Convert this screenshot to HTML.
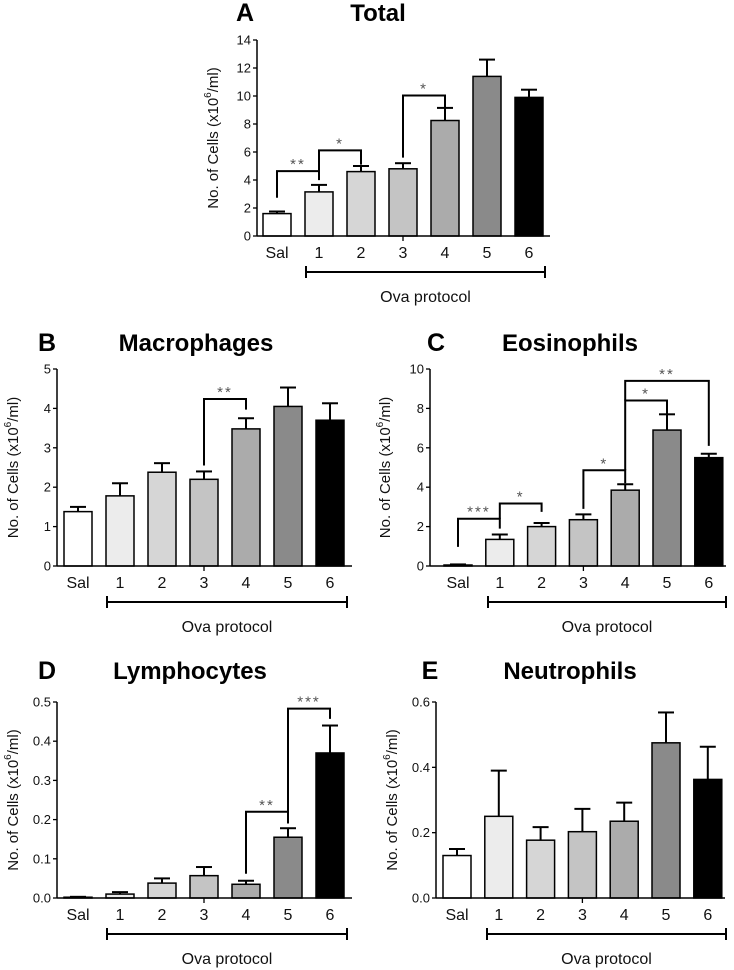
<!DOCTYPE html>
<html><head><meta charset="utf-8"><style>
body{margin:0;background:#fff;}
svg{display:block;font-family:"Liberation Sans",sans-serif;}
</style></head><body>
<svg id="fig" width="734" height="970" viewBox="0 0 734 970"></svg>
<script>
const categories = ["Sal","1","2","3","4","5","6"];
const colors = ["#ffffff","#ececec","#d6d6d6","#c4c4c4","#ababab","#8a8a8a","#000000"];
const totalValues = [1.6,3.15,4.6,4.8,8.25,11.4,9.9];
const totalErrors = [0.15,0.5,0.4,0.4,0.9,1.2,0.55];
const macroValues = [1.38,1.78,2.38,2.2,3.48,4.05,3.7];
const macroErrors = [0.12,0.32,0.23,0.2,0.27,0.48,0.43];
const eosValues = [0.05,1.35,2.0,2.35,3.85,6.9,5.5];
const eosErrors = [0.03,0.25,0.18,0.27,0.3,0.8,0.2];
const lymphValues = [0.002,0.01,0.038,0.057,0.035,0.155,0.37];
const lymphErrors = [0.001,0.005,0.012,0.022,0.009,0.023,0.07];
const neutValues = [0.13,0.25,0.177,0.203,0.235,0.475,0.363];
const neutErrors = [0.02,0.14,0.04,0.07,0.057,0.093,0.1];
const totalTicks = [0,2,4,6,8,10,12,14];
const macroTicks = [0,1,2,3,4,5];
const eosTicks = [0,2,4,6,8,10];
const lymphTicks = [0,0.1,0.2,0.3,0.4,0.5];
const neutTicks = [0,0.2,0.4,0.6];
// brackets: [barA, barB, topValue, leftLegBottom, rightLegBottom, stars]
const totalSig = [[0,1,4.63,2.73,3.99,"**"],[1,2,6.12,4.63,5.1,"*"],[3,4,10.04,5.6,9.2,"*"]];
const macroSig = [[3,4,4.24,2.55,3.97,"**"]];
const eosSig = [[0,1,2.4,0.97,1.9,"***"],[1,2,3.17,2.4,2.75,"*"],[3,4,4.86,2.9,4.2,"*"],[4,5,8.4,4.86,7.5,"*"],[4,6,9.4,8.4,6.1,"**"]];
const lymphSig = [[4,5,0.22,0.062,0.19,"**"],[5,6,0.483,0.22,0.457,"***"]];
const neutSig = [];

const NS="http://www.w3.org/2000/svg";
const svg=document.getElementById('fig');
function mk(tag,attrs,parent){const e=document.createElementNS(NS,tag);for(const k in attrs)e.setAttribute(k,attrs[k]);(parent||svg).appendChild(e);return e;}

function panel(p){
  const g=mk('g',{});
  
  
  const yS=v=>p.y0-(v/p.max)*(p.y0-p.yTop);
  const xS=i=>p.x0+i*p.step;
  const L=mk('text',{x:p.lx,y:p.ty,'font-size':25,'font-weight':'bold',fill:'#000','text-anchor':'middle'},g);L.textContent=p.letter;
  
  
  const T=mk('text',{x:p.tx,y:p.ty,'font-size':24,'font-weight':'bold',fill:'#000','text-anchor':'middle'},g);T.textContent=p.title;
  
  
  const ya=mk('line',{x1:p.ax,y1:p.yTop,x2:p.ax,y2:p.y0,stroke:'#000','stroke-width':1.5},g);
  
  
  p.ticks.forEach(t=>{
    mk('line',{x1:p.ax-4,y1:yS(t),x2:p.ax,y2:yS(t),stroke:'#000','stroke-width':1.3},g);
    const tl=mk('text',{x:p.ax-6,y:yS(t)+4.5,'font-size':13,'text-anchor':'end',fill:'#111'},g);
    tl.textContent=p.dec?t.toFixed(p.dec):String(t);
    
    
  });
  const yl=mk('text',{x:0,y:0,'font-size':15,'text-anchor':'middle',fill:'#111',transform:`translate(${p.ylx},${(p.y0+p.yTop)/2}) rotate(-90)`},g);
  yl.innerHTML='No. of  Cells (x10<tspan dy="-7" font-size="10">6</tspan><tspan dy="7">/ml)</tspan>';
  
  
  p.vals.forEach((v,i)=>{
    const cx=xS(i),w=28,e=p.errs[i];
    const eb=mk('line',{x1:cx,y1:yS(v),x2:cx,y2:yS(v+e),stroke:'#000','stroke-width':2},g);
    
    
    mk('line',{x1:cx-8,y1:yS(v+e),x2:cx+8,y2:yS(v+e),stroke:'#000','stroke-width':2},g);
    const b=mk('rect',{x:cx-w/2,y:yS(v),width:w,height:Math.max(0.5,p.y0-yS(v)),fill:colors[i],stroke:'#000','stroke-width':1.5},g);
    
    
    const cl=mk('text',{x:cx,y:p.y0+22,'font-size':16,'text-anchor':'middle',fill:'#111'},g);cl.textContent=categories[i];
    
    
  });
  const xa=mk('line',{x1:p.ax,y1:p.y0,x2:p.axEnd,y2:p.y0,stroke:'#000','stroke-width':1.5},g);
  
  
  mk('line',{x1:xS(3),y1:p.y0,x2:xS(3),y2:p.y0+5,stroke:'#000','stroke-width':1.3},g);
  const ob=mk('g',{},g);
  
  
  mk('line',{x1:p.bx1,y1:p.by,x2:p.bx2,y2:p.by,stroke:'#000','stroke-width':2},ob);
  mk('line',{x1:p.bx1,y1:p.by-6,x2:p.bx1,y2:p.by+6,stroke:'#000','stroke-width':2},ob);
  mk('line',{x1:p.bx2,y1:p.by-6,x2:p.bx2,y2:p.by+6,stroke:'#000','stroke-width':2},ob);
  const ot=mk('text',{x:(p.bx1+p.bx2)/2,y:p.by+30,'font-size':16,'text-anchor':'middle',fill:'#111'},g);ot.textContent='Ova protocol';
  
  
  p.sig.forEach(s=>{
    const [a,b,top,la,lb,st]=s;
    const sg=mk('path',{d:`M${xS(a)},${yS(la)} V${yS(top)} H${xS(b)} V${yS(lb)}`,fill:'none',stroke:'#000','stroke-width':2},g);
    
    
    const stx=mk('text',{x:(xS(a)+xS(b))/2,y:yS(top)-2,'font-size':15,'text-anchor':'middle',fill:'#555','letter-spacing':'2'},g);stx.textContent=st;
    
    
  });
}
panel({id:'total',letter:'A',title:'Total',lx:245,tx:378,ty:21,ax:257,y0:236,yTop:40,max:14,ticks:totalTicks,x0:277,step:42,axEnd:550,bx1:306,bx2:545,by:272,ylx:218,vals:totalValues,errs:totalErrors,sig:totalSig});
panel({id:'macrophages',letter:'B',title:'Macrophages',lx:47,tx:196,ty:351,ax:57,y0:566,yTop:369,max:5,ticks:macroTicks,x0:78,step:42,axEnd:352,bx1:107,bx2:347,by:602,ylx:18,vals:macroValues,errs:macroErrors,sig:macroSig});
panel({id:'eosinophils',letter:'C',title:'Eosinophils',lx:436,tx:570,ty:351,ax:430,y0:566,yTop:369,max:10,ticks:eosTicks,x0:458,step:41.8,axEnd:726,bx1:488,bx2:726,by:602,ylx:390,vals:eosValues,errs:eosErrors,sig:eosSig});
panel({id:'lymphocytes',letter:'D',title:'Lymphocytes',lx:47,tx:190,ty:679,ax:57,y0:898,yTop:702,max:0.5,dec:1,ticks:lymphTicks,x0:78,step:42,axEnd:352,bx1:107,bx2:347,by:934,ylx:18,vals:lymphValues,errs:lymphErrors,sig:lymphSig});
panel({id:'neutrophils',letter:'E',title:'Neutrophils',lx:430,tx:570,ty:679,ax:436,y0:898,yTop:702,max:0.6,dec:1,ticks:neutTicks,x0:457,step:41.8,axEnd:725,bx1:487,bx2:726,by:934,ylx:397,vals:neutValues,errs:neutErrors,sig:neutSig});
</script>
</body></html>
